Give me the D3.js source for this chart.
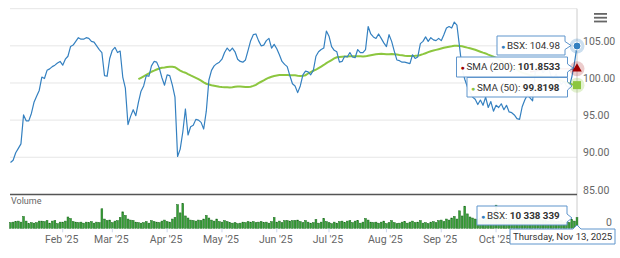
<!DOCTYPE html>
<html>
<head>
<meta charset="utf-8">
<script src="https://cdn.jsdelivr.net/npm/d3@7"></script>
<style>
  html, body { margin: 0; padding: 0; background: #fff; }
  svg { display: block; font-family: Roboto, "Noto Sans", sans-serif; }
</style>
</head>
<body>
<div id="chart"></div>
<script>
// BSX daily close, trading days Jan 2 .. Nov 13 2025
const closes = [
  89.3, 89.6, 90.6, 91.2, 91.8, 95.7, 94.9, 94.9, 95.9, 97.4,
  98.2, 99.0, 100.8, 100.6, 101.7, 101.9, 102.2, 102.4, 102.7, 102.9,
  102.4, 103.2, 103.6, 104.9, 105.1, 105.6, 106.1, 105.9, 105.9, 106.1,
  106.0, 105.6, 105.5, 105.0, 104.5, 104.1, 101.0, 100.9, 103.3, 104.4,
  104.8, 104.1, 104.3, 100.8, 99.3, 94.4, 95.5, 96.4, 95.6, 97.4,
  98.9, 99.6, 101.0, 100.9, 102.3, 102.9, 102.8, 102.0, 100.7, 99.7,
  101.1, 101.0, 99.7, 98.1, 90.1, 91.1, 93.4, 96.5, 93.0, 94.1,
  94.3, 95.1, 95.0, 94.7, 93.8, 96.2, 100.4, 101.7, 102.3, 102.6,
  102.8, 103.2, 104.1, 104.7, 104.3, 104.7, 104.2, 103.2, 102.9, 102.8,
  103.1, 104.4, 105.7, 106.5, 106.6, 105.7, 105.0, 105.1, 105.7, 106.0,
  104.7, 105.2, 104.6, 103.8, 102.9, 102.5, 102.2, 101.0, 99.9, 99.6,
  98.7, 99.6, 101.1, 101.6, 101.5, 101.1, 101.7, 103.6, 104.2, 104.5,
  104.7, 107.0, 106.3, 104.9, 104.4, 104.2, 102.8, 102.9, 103.6, 103.5,
  104.1, 103.5, 103.4, 104.5, 104.1, 104.1, 104.5, 107.6, 106.6, 106.2,
  106.0, 106.6, 106.0, 105.4, 104.9, 106.5, 105.6, 104.3, 103.1, 103.0,
  102.8, 102.8, 102.7, 102.6, 103.8, 103.3, 103.5, 105.3, 105.6, 106.2,
  105.6, 106.1, 105.8, 105.7, 106.0, 105.7, 106.5, 107.4, 107.6, 107.4,
  108.2, 107.8, 104.9, 101.9, 100.5, 99.5, 98.8, 98.1, 97.8, 97.1,
  97.7, 97.0, 98.1, 96.7, 97.5, 96.2, 97.0, 96.7, 97.2, 96.4,
  97.0, 96.1, 96.0, 95.7, 95.2, 95.1, 96.8, 97.7, 98.4, 98.0,
  97.6, 101.5, 102.3, 102.0, 101.4, 101.8, 102.2, 101.0, 100.6, 101.2,
  100.4, 99.8, 100.2, 99.6, 99.4, 100.8, 102.6, 104.98
]

// daily volume, millions of shares
const volumes = [
  5.5, 6.0, 6.5, 7.0, 6.0, 11.5, 7.0, 4.5, 5.5, 5.0,
  5.5, 7.0, 7.0, 6.5, 7.5, 5.0, 7.0, 7.5, 4.5, 6.0,
  6.0, 7.0, 11.0, 9.5, 6.5, 6.0, 5.5, 6.0, 5.0, 6.0,
  5.5, 6.5, 5.0, 6.0, 5.5, 19.0, 9.0, 7.5, 8.0, 5.5,
  7.0, 7.5, 10.5, 16.0, 12.5, 9.0, 8.0, 7.5, 6.0, 5.5,
  5.0, 5.5, 6.5, 5.0, 7.5, 6.5, 6.0, 5.5, 7.0, 8.0,
  6.5, 6.0, 9.0, 10.5, 23.0, 15.0, 24.0, 12.0, 10.0, 8.0,
  7.5, 7.0, 8.0, 7.5, 9.0, 12.5, 10.0, 8.0, 7.0, 9.0,
  6.5, 6.0, 7.5, 6.5, 5.5, 5.0, 5.5, 4.5, 5.0, 6.0,
  5.5, 6.5, 6.0, 6.5, 5.5, 6.0, 6.5, 5.5, 6.0, 5.0,
  6.5, 10.5, 6.0, 7.0, 5.5, 7.5, 7.5, 7.0, 7.5, 7.5,
  8.0, 6.5, 5.5, 7.5, 6.0, 5.0, 5.5, 8.5, 5.0, 6.0,
  9.5, 6.5, 5.5, 4.5, 6.0, 5.0, 6.5, 7.0, 5.5, 7.0,
  7.5, 5.5, 7.0, 7.5, 5.0, 6.0, 9.5, 8.0, 6.0, 5.5,
  6.0, 5.0, 6.0, 7.0, 4.5, 5.5, 7.5, 5.5, 4.5, 5.0,
  6.0, 6.5, 5.0, 6.0, 7.0, 5.5, 6.0, 7.5, 5.0, 5.5,
  4.5, 6.0, 6.5, 5.5, 7.5, 8.0, 6.5, 9.0, 8.0, 10.0,
  11.5, 9.0, 17.0, 12.0, 21.5, 14.0, 11.0, 10.0, 9.0, 8.5,
  9.5, 8.0, 10.0, 9.0, 12.0, 11.0, 22.5, 12.0, 9.0, 8.5,
  8.0, 9.0, 7.5, 8.0, 9.5, 10.0, 8.5, 7.5, 8.0, 9.0,
  11.0, 16.0, 12.0, 9.0, 8.0, 7.5, 7.0, 8.0, 7.5, 6.5,
  7.0, 8.0, 6.0, 7.5, 5.5, 8.5, 7.0, 10.338339
]

// first trading day of each month (index into the series) and its label
const tickIndex = [20, 39, 60, 81, 102, 122, 144, 165, 186]
const tickLabels = ["Feb '25", "Mar '25", "Apr '25", "May '25", "Jun '25", "Jul '25", "Aug '25", "Sep '25", "Oct '25"]

const priceTicks = [85, 90, 95, 100, 105, 110]

const lastDate = "Thursday, Nov 13, 2025"
const lastClose = "104.98"
const lastSma200 = "101.8533"
const lastSma50 = "99.8198"
const lastVolume = "10 338 339"

const blue = "#3480c0", green = "#8cc63f", red = "#a00000"

const width = 620, height = 258

const svg = d3.select("#chart").append("svg")
    .attr("width", width)
    .attr("height", height)

const n = closes.length
const x = d3.scaleLinear().domain([0, n - 1]).range([10.5, 577])
const y = d3.scaleLinear().domain([85, 110]).range([194.4, 8.7])
const yv = d3.scaleLinear().domain([0, 32]).range([228.3, 195.4])

// simple moving average like the chart's indicator
const sma = (period) => closes.map((c, i) => i < period - 1 ? null : d3.mean(closes.slice(i - period + 1, i + 1)))
const sma50 = sma(50)
const sma200 = sma(200)

// gridlines + y labels
svg.append("g")
    .selectAll("line")
    .data(priceTicks.filter(t => t !== 85))
    .enter()
    .append("line")
    .attr("x1", 10).attr("x2", 577)
    .attr("y1", d => y(d)).attr("y2", d => y(d))
    .attr("stroke", "#e6e6e6")

svg.append("g")
    .selectAll("text")
    .data(priceTicks.filter(t => t !== 110))
    .enter()
    .append("text")
    .attr("x", 583)
    .attr("y", d => y(d) - 4.5)
    .attr("dy", "0.35em")
    .attr("font-size", 10.5)
    .attr("fill", "#666")
    .text(d => d.toFixed(2))

// crosshair
svg.append("line")
    .attr("x1", 577).attr("x2", 577)
    .attr("y1", 8.7).attr("y2", 229)
    .attr("stroke", "#cccccc")

// pane separator (price axis bottom)
svg.append("line")
    .attr("x1", 10).attr("x2", 577)
    .attr("y1", y(85)).attr("y2", y(85))
    .attr("stroke", "#555")
    .attr("stroke-width", 1.5)

// volume
svg.append("text")
    .attr("x", 11).attr("y", 201)
    .attr("dy", "0.35em")
    .attr("font-size", 9)
    .attr("fill", "#666")
    .text("Volume")

svg.append("text")
    .attr("x", 606).attr("y", 222)
    .attr("dy", "0.35em")
    .attr("font-size", 10.5)
    .attr("fill", "#666")
    .text("0")

svg.append("g")
    .selectAll("rect")
    .data(volumes)
    .enter()
    .append("rect")
    .attr("x", (d, i) => x(i) - 0.9)
    .attr("width", 1.8)
    .attr("y", d => yv(d))
    .attr("height", d => yv(0) - yv(d))
    .attr("fill", "#37a037")
    .attr("stroke", "#1b6a1d")
    .attr("stroke-width", 0.5)

// x ticks
const xt = svg.append("g")
xt.selectAll("line")
    .data(tickIndex)
    .enter()
    .append("line")
    .attr("x1", d => x(d)).attr("x2", d => x(d))
    .attr("y1", yv(0)).attr("y2", yv(0) + 4)
    .attr("stroke", "#ccd6eb")
xt.selectAll("text")
    .data(tickIndex)
    .enter()
    .append("text")
    .attr("x", d => x(d) - 1)
    .attr("y", 239)
    .attr("dy", "0.35em")
    .attr("text-anchor", "middle")
    .attr("font-size", 10.5)
    .attr("fill", "#666")
    .text((d, i) => tickLabels[i])

// lines
const line = d3.line()
    .defined(d => d != null)
    .x((d, i) => x(i))
    .y(d => y(d))

svg.append("path")
    .attr("d", line(sma200))
    .attr("fill", "none")
    .attr("stroke", red)
    .attr("stroke-width", 1.5)

svg.append("path")
    .attr("d", line(sma50))
    .attr("fill", "none")
    .attr("stroke", green)
    .attr("stroke-width", 2)

svg.append("path")
    .attr("d", line(closes))
    .attr("fill", "none")
    .attr("stroke", blue)
    .attr("stroke-width", 1.2)
    .attr("stroke-linejoin", "round")

// hover markers on the last point
const lx = x(n - 1)
svg.append("circle").attr("cx", lx).attr("cy", y(closes[n - 1])).attr("r", 7.5).attr("fill", blue).attr("opacity", 0.25)
svg.append("circle").attr("cx", lx).attr("cy", y(closes[n - 1])).attr("r", 4).attr("fill", blue).attr("stroke", "#fff")
svg.append("circle").attr("cx", lx).attr("cy", y(sma200[n - 1])).attr("r", 7.5).attr("fill", red).attr("opacity", 0.2)
svg.append("path")
    .attr("d", d3.symbol(d3.symbolTriangle, 40)())
    .attr("transform", `translate(${lx},${y(sma200[n - 1])})`)
    .attr("fill", red)
svg.append("circle").attr("cx", lx).attr("cy", y(sma50[n - 1])).attr("r", 7.5).attr("fill", green).attr("opacity", 0.25)
svg.append("rect")
    .attr("x", lx - 4).attr("y", y(sma50[n - 1]) - 4)
    .attr("width", 8).attr("height", 8)
    .attr("fill", green)

// tooltips
const boxPath = (x0, y0, w, h, tipX, tipY) => {
    const r = x0 + w
    return `M${x0},${y0}H${r}V${tipY - 4}L${tipX},${tipY}L${r},${tipY + 4}V${y0 + h}H${x0}Z`
}

const tip = (x0, y0, w, h, tipX, tipY, color, label, value, bold) => {
    const g = svg.append("g")
    g.append("path")
        .attr("d", boxPath(x0, y0, w, h, tipX, tipY))
        .attr("fill", "rgba(255,255,255,0.95)")
        .attr("stroke", "#5f95cc")
    const t = g.append("text")
        .attr("x", x0 + 4)
        .attr("y", y0 + h / 2)
        .attr("dy", "0.35em")
        .attr("font-size", 9.8)
        .attr("fill", "#333")
    t.append("tspan").attr("fill", color).attr("font-size", 7).text("● ")
    t.append("tspan").text(label)
    t.append("tspan").attr("font-weight", bold ? "bold" : "normal").text(value)
}

tip(497, 36, 68, 19, 571, 45.5, blue, "BSX: ", lastClose, false)
tip(456.5, 57, 111, 20, 573, 68, red, "SMA (200): ", lastSma200, true)
tip(467, 77.5, 100.5, 19.5, 572, 86, green, "SMA (50): ", lastSma50, true)
tip(477, 206, 90, 19, 572, 218, blue, "BSX: ", lastVolume, true)

// date label under the crosshair
svg.append("path")
    .attr("d", `M510,229H573L577,225L581,229H615V244H510Z`)
    .attr("fill", "#fff")
    .attr("stroke", "#5f95cc")
svg.append("text")
    .attr("x", 513).attr("y", 236.5)
    .attr("dy", "0.35em")
    .attr("font-size", 9.6)
    .attr("fill", "#333")
    .text(lastDate)

// menu icon
svg.append("g")
    .selectAll("rect")
    .data([0, 1, 2])
    .enter()
    .append("rect")
    .attr("x", 594).attr("y", d => 13 + d * 3.8)
    .attr("width", 13).attr("height", 1.8)
    .attr("fill", "#666")
</script>
</body>
</html>
